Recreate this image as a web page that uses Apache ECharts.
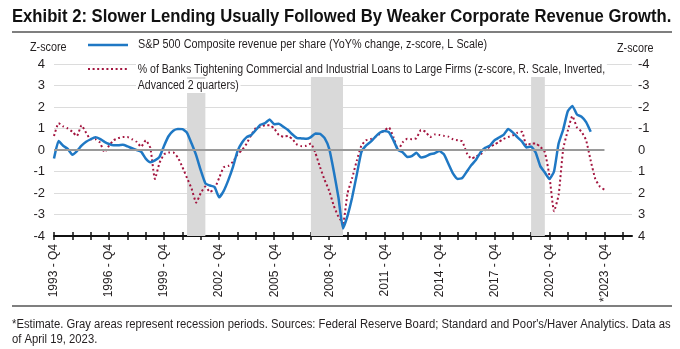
<!DOCTYPE html>
<html><head><meta charset="utf-8">
<script src="https://cdn.jsdelivr.net/npm/echarts@6/dist/echarts.min.js"></script>
<style>html,body{margin:0;padding:0;background:#fff}#c{width:680px;height:349px}</style>
</head><body><div id="c"></div>
<script>
// Quarterly categories from 1993 Q4 to 2025 Q2
var firstYear = 1993;
var quarters = [];
for (var i = 0; i <= 126; i++) {
  var y = firstYear + Math.floor((i + 3) / 4);
  var q = ((i + 3) % 4) + 1;
  quarters.push(y + ' - Q' + q);
}
// S&P 500 revenue per share YoY, z-score (left scale), 1993Q4 .. 2023Q1
var revenue = [-0.4,0.42,0.2,0.05,-0.22,-0.05,0.2,0.38,0.5,0.59,
0.52,0.38,0.28,0.22,0.22,0.24,0.17,0.08,0.0,-0.08,
-0.4,-0.57,-0.48,-0.32,0.2,0.65,0.9,0.98,0.97,0.8,
0.3,-0.25,-0.95,-1.55,-1.65,-1.72,-2.2,-1.9,-1.4,-0.8,
-0.05,0.35,0.6,0.7,0.93,1.17,1.25,1.42,1.2,1.22,
1.08,0.93,0.72,0.55,0.54,0.52,0.6,0.77,0.75,0.55,
0.05,-1.0,-2.2,-3.65,-3.05,-2.2,-1.15,-0.1,0.2,0.38,
0.6,0.8,0.88,0.83,0.45,0.0,-0.1,-0.32,-0.28,-0.13,
-0.35,-0.3,-0.2,-0.15,-0.05,-0.2,-0.65,-1.1,-1.35,-1.3,
-1.0,-0.7,-0.45,-0.1,0.1,0.2,0.45,0.58,0.7,0.98,
0.82,0.6,0.4,0.12,0.16,-0.12,-0.75,-1.05,-1.35,-1.0,
0.3,0.95,1.8,2.05,1.65,1.55,1.3,0.85];
// % of banks tightening C&I loans, z-score (right scale, inverted), advanced 2 quarters, 1993Q4 .. 2023Q4
var tightening = [-0.65,-1.25,-1.1,-1.0,-0.85,-0.65,-1.15,-0.8,-0.5,-0.5,
-0.35,0.1,-0.2,-0.45,-0.55,-0.6,-0.6,-0.5,-0.38,-0.15,
-0.45,-0.1,1.35,0.6,0.2,0.12,0.12,0.35,0.8,1.3,
1.8,2.45,2.0,1.7,1.95,1.8,1.3,0.8,0.74,0.55,
0.2,0.0,-0.3,-0.7,-1.02,-1.08,-1.15,-1.15,-1.0,-0.7,
-0.62,-0.65,-0.5,-0.25,-0.18,-0.2,-0.3,0.15,0.8,1.4,
1.9,2.6,3.1,3.4,2.0,1.3,0.5,-0.2,-0.45,-0.5,
-0.6,-0.75,-0.9,-1.05,-0.6,0.0,-0.35,-0.52,-0.5,-0.55,
-0.93,-0.85,-0.6,-0.72,-0.7,-0.66,-0.62,-0.5,-0.45,-0.4,
0.15,0.4,0.3,0.2,0.0,-0.15,-0.25,-0.38,-0.52,-0.6,
-0.68,-0.8,-0.85,-0.2,-0.3,-0.3,-0.15,0.1,1.2,2.85,
2.1,-0.05,-0.9,-1.58,-1.05,-0.85,-0.45,0.5,1.35,1.7,
1.85];
var recessions = [['2001 - Q1','2002 - Q1'],['2007 - Q4','2009 - Q3'],['2019 - Q4','2020 - Q3']];
var zeroSpan = ['1993 - Q4','2023 - Q4'];
var estimateLabel = '2023 - Q4';

var F = "'Liberation Sans',Arial,sans-serif";
var TXT = '#231f20';
var BLUE = '#1f78c4';
var RED = '#a3153f';

var chart = echarts.init(document.getElementById('c'), null, {renderer:'canvas'});
var gridColors = ['#dcdcdc','#dcdcdc','#dcdcdc','#dcdcdc','rgba(0,0,0,0)','#dcdcdc','#dcdcdc','#dcdcdc','#dcdcdc'];
function tick(i){return i%4===0;}
chart.setOption({
  animation:false,
  grid:{left:54,right:48,top:64,bottom:113},
  xAxis:[{
    type:'category', data:quarters, boundaryGap:false, position:'bottom',
    axisLine:{onZero:false, lineStyle:{color:'#111',width:2}},
    axisTick:{interval:tick, length:4, lineStyle:{color:'#111',width:1.5}},
    axisLabel:{interval:function(i){return i%12===0 && i<=120;}, rotate:90, margin:8,
      fontFamily:F, fontSize:12, color:TXT,
      formatter:function(v){return v===estimateLabel ? '*'+v : v;}},
    splitLine:{show:false}
  },{
    type:'category', data:quarters, boundaryGap:false, position:'bottom', offset:0,
    axisLine:{onZero:false, show:false},
    axisTick:{interval:tick, inside:true, length:4, lineStyle:{color:'#111',width:1.5}},
    axisLabel:{show:false}, splitLine:{show:false}
  }],
  yAxis:[{
    type:'value', min:-4, max:4, interval:1, position:'left',
    axisLine:{show:false}, axisTick:{show:false},
    axisLabel:{margin:9, fontFamily:F, fontSize:13, color:TXT},
    splitLine:{lineStyle:{color:gridColors,width:1}}
  },{
    type:'value', min:-4, max:4, interval:1, inverse:true, position:'right',
    axisLine:{show:false}, axisTick:{show:false},
    axisLabel:{margin:6, fontFamily:F, fontSize:13, color:TXT},
    splitLine:{show:false}
  }],
  series:[{
    name:'rev', type:'line', xAxisIndex:0, yAxisIndex:0, data:revenue,
    showSymbol:false, smooth:0.15, z:4,
    lineStyle:{color:BLUE,width:2.5},
    markArea:{silent:true, itemStyle:{color:'#d9d9d9'},
      data:recessions.map(function(r){return [{xAxis:r[0]},{xAxis:r[1]}];})},
    markLine:{silent:true, symbol:'none', label:{show:false},
      lineStyle:{color:'#9a9a9a',width:2,type:'solid'},
      data:[[{coord:[zeroSpan[0],0]},{coord:[zeroSpan[1],0]}]]}
  },{
    name:'tight', type:'line', xAxisIndex:0, yAxisIndex:1, data:tightening,
    showSymbol:false, smooth:0.15, z:3,
    lineStyle:{color:RED,width:2,type:[2,2.6]}
  }],
  graphic:[
    {type:'text', z:100, x:12, y:17, scaleX:0.925, style:{text:'Exhibit 2: Slower Lending Usually Followed By Weaker Corporate Revenue Growth.', font:'bold 18px '+F, fill:'#111', verticalAlign:'middle'}},
    {type:'line', z:100, shape:{x1:12,y1:32,x2:672,y2:32}, style:{stroke:'#555',lineWidth:1.5}},
    {type:'text', z:100, x:30, y:48, scaleX:0.9, style:{text:'Z-score', font:'12px '+F, fill:TXT, verticalAlign:'middle'}},
    {type:'text', z:100, x:617, y:49, scaleX:0.9, style:{text:'Z-score', font:'12px '+F, fill:TXT, verticalAlign:'middle'}},
    {type:'line', z:100, shape:{x1:88,y1:45,x2:128,y2:45}, style:{stroke:BLUE,lineWidth:2.5}},
    {type:'text', z:100, x:138, y:45, scaleX:0.9, style:{text:'S&P 500 Composite revenue per share (YoY% change, z-score, L Scale)', font:'12px '+F, fill:TXT, verticalAlign:'middle'}},
    {type:'line', z:100, shape:{x1:88,y1:69,x2:128,y2:69}, style:{stroke:RED,lineWidth:2,lineDash:[2,2.6]}},
    {type:'text', z:100, x:136, y:70, scaleX:0.88, style:{text:'% of Banks Tightening Commercial and Industrial Loans to Large Firms (z-score, R. Scale, Inverted,', font:'12px '+F, fill:TXT, verticalAlign:'middle', backgroundColor:'#fff', padding:[1,2,1,2]}},
    {type:'text', z:100, x:136, y:86, scaleX:0.88, style:{text:'Advanced 2 quarters)', font:'12px '+F, fill:TXT, verticalAlign:'middle', backgroundColor:'#fff', padding:[1,2,1,2]}},
    {type:'line', z:100, shape:{x1:12,y1:306,x2:672,y2:306}, style:{stroke:'#555',lineWidth:1.5}},
    {type:'text', z:100, x:12, y:325, scaleX:0.94, style:{text:"*Estimate. Gray areas represent recession periods. Sources: Federal Reserve Board; Standard and Poor's/Haver Analytics. Data as", font:'12px '+F, fill:TXT, verticalAlign:'middle'}},
    {type:'text', z:100, x:12, y:340, scaleX:0.94, style:{text:'of April 19, 2023.', font:'12px '+F, fill:TXT, verticalAlign:'middle'}}
  ]
});
</script></body></html>
